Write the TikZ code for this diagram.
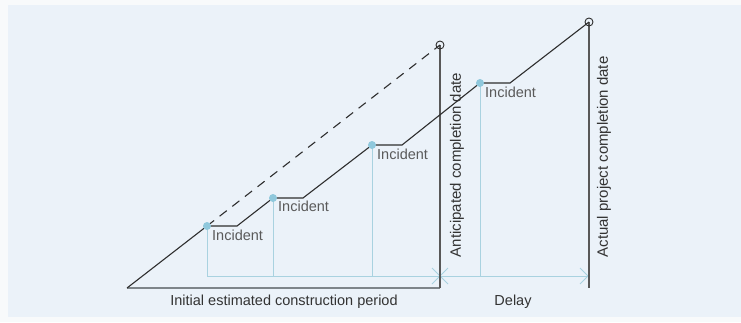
\documentclass[tikz,border=0pt]{standalone}
\usepackage{fontspec}
\setmainfont{Liberation Sans}
\usetikzlibrary{calc}
\definecolor{bgpanel}{HTML}{EBF2F9}
\definecolor{outer}{HTML}{F8FAFB}
\definecolor{lineblue}{HTML}{A9D2E0}
\definecolor{dotblue}{HTML}{8FC8DC}
\definecolor{darkline}{HTML}{2E2E2E}
\definecolor{baseline}{HTML}{7E858A}
\definecolor{labelgray}{HTML}{5A5A5A}
\definecolor{textdark}{HTML}{333333}
\begin{document}
\begin{tikzpicture}[x=1pt,y=-1pt,
  mainline/.style={draw=darkline,line width=1.1pt},
  guide/.style={draw=lineblue,line width=0.9pt},
  vline/.style={draw=darkline!80,line width=1.1pt},
  dot/.style={circle,fill=dotblue,inner sep=0pt,minimum size=8pt},
  endcirc/.style={circle,draw=darkline,line width=0.9pt,inner sep=0pt,minimum size=8pt},
  inclabel/.style={anchor=north west,inner sep=0pt,text=labelgray,font=\fontsize{14.5}{17}\selectfont},
  axislabel/.style={inner sep=0pt,text=textdark,font=\fontsize{14.5}{17}\selectfont},
  rotlabel/.style={inner sep=0pt,rotate=90,text=textdark,font=\fontsize{15}{18}\selectfont}
]
\useasboundingbox (0,0) rectangle (741,322);
\fill[outer] (0,0) rectangle (741,322);
\fill[bgpanel] (8,5) rectangle (741,317);

% key points
\coordinate (o) at (127,288);
\coordinate (i1) at (207,226);
\coordinate (h1) at (237,226);
\coordinate (i2) at (273,198);
\coordinate (h2) at (303,198);
\coordinate (i3) at (372,145);
\coordinate (h3) at (402,145);
\coordinate (i4) at (480,83);
\coordinate (h4) at (510,83);
\coordinate (e) at (589,22);
\coordinate (a) at (440,45);
\coordinate (ab) at (440,288);
\coordinate (eb) at (589,288);
\coordinate (g1) at (207,276);
\coordinate (g2) at (273,276);
\coordinate (g3) at (372,276);
\coordinate (g4) at (480,276);
\coordinate (gx) at (440,276);
\coordinate (ge) at (588,276);

% light blue guides
\draw[guide] (i1) -- (g1) -- (ge);
\draw[guide] (i2) -- (g2);
\draw[guide] (i3) -- (g3);
\draw[guide] (i4) -- (g4);
\draw[guide] ($(gx)+(-8,-8)$) -- ($(gx)+(8,8)$);
\draw[guide] ($(gx)+(-8,8)$) -- ($(gx)+(8,-8)$);
\draw[guide] ($(ge)+(-8,-8)$) -- (ge) -- ($(ge)+(-8,8)$);

% baseline and verticals
\draw[draw=baseline,line width=1.6pt] (o) -- (ab);
\draw[vline] (a) -- (ab);
\draw[vline] (e) -- (eb);

% dashed projection
\draw[mainline,dash pattern=on 9pt off 7pt] (i1) -- (a);

% actual progress line
\draw[mainline] (o) -- (i1) -- (h1) -- (i2) -- (h2) -- (i3) -- (h3) -- (i4) -- (h4) -- (e);

% end circles
\node[endcirc] (ac) at (a) {};
\node[endcirc] (ec) at (e) {};

% incident dots and labels
\node[dot] (d1) at (i1) {};
\node[dot] (d2) at (i2) {};
\node[dot] (d3) at (i3) {};
\node[dot] (d4) at (i4) {};
\node[inclabel] (l1) at (212,230) {Incident};
\node[inclabel] (l2) at (278,201) {Incident};
\node[inclabel] (l3) at (377,149) {Incident};
\node[inclabel] (l4) at (485,87) {Incident};

% axis labels
\node[axislabel] (t1) at (284,302) {Initial estimated construction period};
\node[axislabel] (t2) at (513,302) {Delay};
\node[rotlabel] (r1) at (457,165) {Anticipated completion date};
\node[rotlabel] (r2) at (604,157) {Actual project completion date};
\end{tikzpicture}
\end{document}
